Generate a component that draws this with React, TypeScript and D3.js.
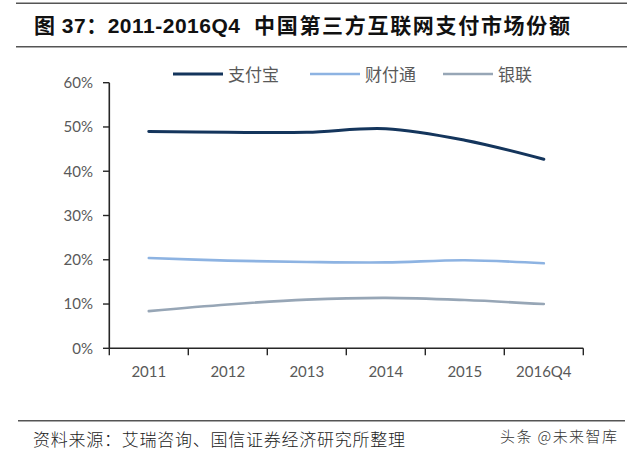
import React from "react";
import * as d3 from "d3";

const categories = ["2011", "2012", "2013", "2014", "2015", "2016Q4"];
const alipay = [49.0, 48.8, 48.8, 49.6, 47.0, 42.7];
const tenpay = [20.4, 19.8, 19.5, 19.4, 19.9, 19.2];
const unionpay = [8.4, 9.9, 11.0, 11.4, 10.9, 10.0];
const yTicks = [0, 10, 20, 30, 40, 50, 60];
const seriesNames = ["支付宝", "财付通", "银联"];
const titlePrefix = "图 37：2011-2016Q4";
const titleMain = "中国第三方互联网支付市场份额";
const sourceText = "资料来源：艾瑞咨询、国信证券经济研究所整理";
const watermarkText = "头条 @未来智库";

const W = 629;
const H = 459;
const colors = ["#14355c", "#8db3e2", "#97a6b6"];
const widths = [3, 2.6, 2.6];
const latin = "Lato, 'Open Sans', 'Noto Sans CJK SC', sans-serif";
const cjk = "'Noto Sans CJK SC', sans-serif";
const titleFont = "'Liberation Sans', 'Noto Sans CJK SC', sans-serif";

export default function App() {
  const x = d3.scaleBand<string>().domain(categories).range([109.3, 583.3]);
  const y = d3.scaleLinear().domain([0, 60]).range([348.3, 82.7]);
  const line = d3
    .line<number>()
    .x((_, i) => (x(categories[i]) as number) + x.bandwidth() / 2)
    .y((d) => y(d))
    .curve(d3.curveCatmullRom.alpha(0.5));
  const series = [alipay, tenpay, unionpay];
  const legendX = [173, 310, 443];
  const x0 = x.range()[0];
  const x1 = x.range()[1];

  return (
    <div style={{ position: "fixed", left: 0, top: 0 }}>
      <svg width={W} height={H} viewBox={`0 0 ${W} ${H}`} style={{ display: "block", background: "#fff" }}>
        <rect width={W} height={H} fill="#fff" />
        <line x1={16} x2={627} y1={3.3} y2={3.3} stroke="#555" strokeWidth={1.6} />
        <line x1={16} x2={627} y1={46.7} y2={46.7} stroke="#555" strokeWidth={1.6} />
        <text x={34} y={33} textLength={206} lengthAdjust="spacing" fontFamily={titleFont} fontWeight="bold" fontSize={21} fill="#111">
          {titlePrefix}
        </text>
        <text x={254} y={33} textLength={316} lengthAdjust="spacing" fontFamily={titleFont} fontWeight="bold" fontSize={21} fill="#111">
          {titleMain}
        </text>

        {seriesNames.map((n, i) => (
          <g key={n}>
            <line x1={legendX[i]} x2={legendX[i] + 50} y1={74} y2={74} stroke={colors[i]} strokeWidth={widths[i]} />
            <text x={legendX[i] + 55} y={81} fontFamily={cjk} fontSize={17} fill="#595959">
              {n}
            </text>
          </g>
        ))}

        {yTicks.map((t) => (
          <g key={t}>
            <line x1={103} x2={x0} y1={y(t)} y2={y(t)} stroke="#262626" strokeWidth={1.4} />
            <text x={93} y={y(t) + 5.3} textAnchor="end" fontFamily={latin} fontSize={15} fill="#595959">
              {t}%
            </text>
          </g>
        ))}
        <line x1={x0} x2={x0} y1={y(60)} y2={y(0)} stroke="#262626" strokeWidth={1.6} />
        <line x1={x0} x2={x1} y1={y(0)} y2={y(0)} stroke="#262626" strokeWidth={1.6} />
        {categories.map((c) => (
          <line key={"t" + c} x1={x(c) as number} x2={x(c) as number} y1={y(0)} y2={y(0) + 7} stroke="#262626" strokeWidth={1.4} />
        ))}
        <line x1={x1} x2={x1} y1={y(0)} y2={y(0) + 7} stroke="#262626" strokeWidth={1.4} />
        {categories.map((c) => (
          <text key={c} x={(x(c) as number) + x.bandwidth() / 2} y={377} textAnchor="middle" fontFamily={latin} fontSize={15} fill="#595959">
            {c}
          </text>
        ))}

        {series.map((s, i) => (
          <path key={i} d={line(s) || ""} fill="none" stroke={colors[i]} strokeWidth={widths[i]} strokeLinecap="round" />
        ))}

        <line x1={18} x2={625} y1={420.7} y2={420.7} stroke="#555" strokeWidth={1.4} />
        <text x={33} y={446} textLength={372} lengthAdjust="spacing" fontFamily={cjk} fontWeight={300} fontSize={17} fill="#222">
          {sourceText}
        </text>
        <text x={500} y={442} textLength={117} lengthAdjust="spacing" fontFamily={cjk} fontWeight={300} fontSize={15} fill="#333">
          {watermarkText}
        </text>
      </svg>
    </div>
  );
}
